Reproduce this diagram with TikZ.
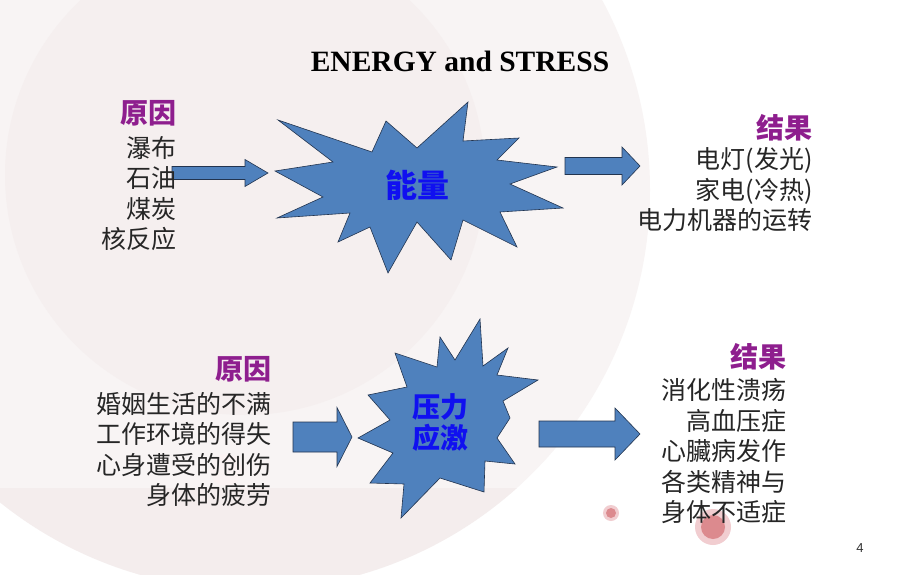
\documentclass[tikz,border=0pt]{standalone}
\usepackage{fontspec}
\setmainfont{Liberation Serif}
\newfontfamily\cjk{Noto Sans CJK SC}
\newfontfamily\pagefont{Liberation Sans}

\definecolor{starblue}{HTML}{4F81BD}
\definecolor{edgeblue}{HTML}{22344F}
\definecolor{causepurple}{HTML}{8E1E8E}
\definecolor{coreblue}{HTML}{1010F0}
\definecolor{bglight}{HTML}{F8F4F4}
\definecolor{bgpink}{HTML}{F5EFEF}
\definecolor{bgband}{HTML}{F4EDED}
\definecolor{dotred}{HTML}{DC8A8E}
\definecolor{dothalo}{HTML}{F1CDD0}

\tikzset{
  shapefill/.style={fill=starblue, draw=edgeblue, line width=0.6pt},
  head/.style={font=\cjk\bfseries\fontsize{28}{30}\selectfont, text=causepurple, inner sep=0pt, anchor=base east},
  list/.style={font=\cjk\fontsize{25}{30.5}\selectfont, text=black!85, align=right, inner sep=0pt, anchor=base east},
  core/.style={font=\cjk\bfseries\fontsize{#1}{31}\selectfont, text=coreblue, align=center, inner sep=0pt},
}

% name, shaft start, head base, tip, mid y, half shaft, half head
\newcommand\blockarrow[7]{%
  \draw[shapefill] (#2,#5-#6) -- (#3,#5-#6) -- (#3,#5-#7) -- (#4,#5)
    -- (#3,#5+#7) -- (#3,#5+#6) -- (#2,#5+#6) -- cycle;
  \coordinate (#1) at (#4,#5);}

\begin{document}
\begin{tikzpicture}[x=1pt, y=-1pt]
\useasboundingbox (0,0) rectangle (920,575);
\fill[white] (0,0) rectangle (920,575);
\begin{scope}
\clip (0,0) rectangle (920,575);
\fill[bglight] (250,190) circle (400);
\fill[bgpink] (245,175) circle (240);
\begin{scope}
\clip (250,190) circle (400);
\fill[bgband] (0,488) rectangle (920,575);
\end{scope}
\end{scope}
\fill[dothalo!25] (226,470) circle (16);
\fill[dothalo] (611,513) circle (8);
\fill[dotred] (611,513) circle (5);
\fill[dothalo] (713,527) circle (18);
\fill[dotred] (713,527) circle (12);

\node[font=\bfseries\fontsize{29.5}{30}\selectfont, anchor=base] (title) at (460,72) {ENERGY and STRESS};

\draw[shapefill] (278,120) -- (372,152) -- (386,121) -- (417,148) -- (468,102)
  -- (463,141) -- (519,138) -- (497,160) -- (557,167) -- (510,184) -- (563,208)
  -- (500,212) -- (517,247) -- (463,220) -- (451,260) -- (417,222) -- (388,273)
  -- (370,227) -- (338,242) -- (350,213) -- (277,218) -- (323,197) -- (275,171)
  -- (333,162) -- cycle;
\node[core=32] (energy) at (417,185) {能量};

\draw[shapefill] (480,319) -- (483,366) -- (508,348) -- (497,375) -- (538,380)
  -- (503,401) -- (510,418) -- (497,438) -- (515,464) -- (485,461) -- (484,492)
  -- (440,478) -- (401,518) -- (404,484) -- (370,483) -- (393,453) -- (358,438)
  -- (390,420) -- (368,395) -- (407,387) -- (395,353) -- (437,367) -- (440,337)
  -- (455,360) -- cycle;
\node[core=28] (stress) at (440,423) {压力\\应激};

\blockarrow{arrowA}{172}{245}{268}{173}{6.5}{13.5}
\blockarrow{arrowB}{565}{622}{640}{166}{8.5}{19}
\blockarrow{arrowC}{293}{337}{352}{437}{15}{29.5}
\blockarrow{arrowD}{539}{615}{640}{434}{13}{26}

\node[head] (causeA) at (177,123.6) {原因};
\node[list] (sourceA) at (177,248.5) {瀑布\\石油\\煤炭\\核反应};
\node[head] (effectA) at (813,138.6) {结果};
\node[list] (resultA) at (813,229.5) {电灯(发光)\hspace{6pt}\\家电(冷热)\hspace{6pt}\\电力机器的运转};

\node[head] (causeB) at (272,379.6) {原因};
\node[list] (sourceB) at (272,504.5) {婚姻生活的不满\\工作环境的得失\\心身遭受的创伤\\身体的疲劳};
\node[head] (effectB) at (787,367.6) {结果};
\node[list] (resultB) at (787,521.5) {消化性溃疡\\高血压症\\心臟病发作\\各类精神与\\身体不适症};

\node[font=\pagefont\fontsize{13}{13}\selectfont, text=black!80] (pagenum) at (860,548) {4};
\end{tikzpicture}
\end{document}
